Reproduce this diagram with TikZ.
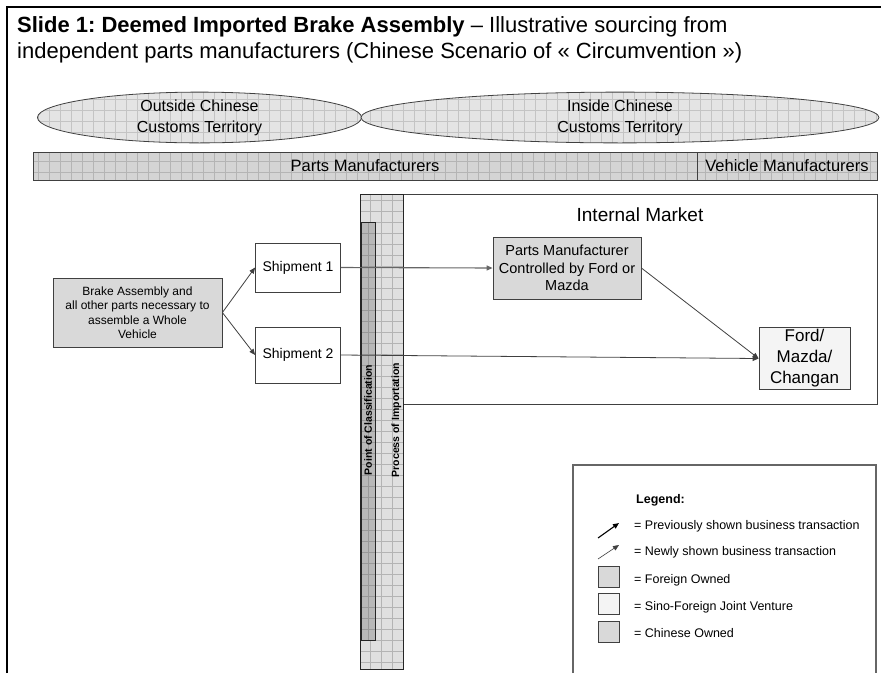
\documentclass[tikz,border=0pt]{standalone}
\usepackage{fontspec}
\setmainfont{Liberation Sans}
\usetikzlibrary{arrows.meta,shapes.geometric}
\definecolor{fillgray}{HTML}{D9D9D9}
\definecolor{jvfill}{HTML}{F4F4F4}
\definecolor{ellfill}{HTML}{E4E4E4}
\definecolor{barfill}{HTML}{D4D4D4}
\definecolor{stripfill}{HTML}{E0E0E0}
\definecolor{darkstrip}{HTML}{B8B8B8}
\definecolor{gridc}{HTML}{B4B4B4}
\definecolor{gridl}{HTML}{C4C4C4}
\definecolor{linec}{HTML}{404040}
\frenchspacing
\begin{document}
\begin{tikzpicture}[x=1pt,y=-1pt,
  gridfill/.style={path picture={\draw[line width=0.4pt, draw=#1]
     (path picture bounding box.south west) grid[step=11pt] (path picture bounding box.north east);}},
  gridfill/.default=gridc,
  box/.style={draw=linec, line width=0.8pt, align=center, inner sep=0pt},
  conn/.style={draw=linec, line width=0.8pt, -{Triangle[length=6pt,width=5pt]}},
  legtext/.style={anchor=west, inner sep=0pt, font=\fontsize{12.5}{15}\selectfont},
  legsq/.style={draw=linec, line width=0.8pt, minimum width=21pt, minimum height=21pt, inner sep=0pt},
]
\useasboundingbox (0,0) rectangle (885,673);
% frame
\draw[line width=2.4pt] (7,673) -- (7,7) -- (881,7);
% title
\node[anchor=base west, inner sep=0pt, font=\fontsize{22}{26}\selectfont] (title1) at (17,32)
  {\textbf{Slide 1: Deemed Imported Brake Assembly} – Illustrative sourcing from};
\node[anchor=base west, inner sep=0pt, font=\fontsize{22}{26}\selectfont] (title2) at (17,58)
  {independent parts manufacturers (Chinese Scenario of « Circumvention »)};
% territory ellipses
\node[ellipse, draw=linec, line width=0.8pt, fill=ellfill, gridfill=gridl, inner sep=0pt,
  minimum width=324pt, minimum height=41pt, align=center,
  font=\fontsize{16}{21}\selectfont] (outside) at (199.5,117.5) {Outside Chinese\\Customs Territory};
\node[ellipse, draw=linec, line width=0.8pt, fill=ellfill, gridfill=gridl, inner sep=0pt,
  minimum width=518pt, minimum height=41pt, align=center,
  font=\fontsize{16}{21}\selectfont] (inside) at (620,117.5) {Inside Chinese\\Customs Territory};
% manufacturer bars
\node[box, fill=barfill, gridfill, minimum width=664pt, minimum height=28pt,
  font=\fontsize{16.5}{19}\selectfont] (parts) at (365,166) {Parts Manufacturers};
\node[box, fill=barfill, gridfill, minimum width=180pt, minimum height=28pt,
  font=\fontsize{16.5}{19}\selectfont] (vehicle) at (787,166) {Vehicle Manufacturers};
% internal market
\node[draw=linec, line width=0.8pt, minimum width=474pt, minimum height=210pt, inner sep=0pt] (market) at (640,299) {};
\node[font=\fontsize{19}{22}\selectfont, inner sep=0pt] (marketlabel) at (640,215) {Internal Market};
% strips
\node[draw=black!85, line width=0.9pt, fill=stripfill, gridfill, minimum width=43pt, minimum height=475pt, inner sep=0pt] (importation) at (381.5,431.5) {};
\node[draw=black!85, line width=0.9pt, fill=darkstrip, gridfill=black!40, minimum width=14pt, minimum height=418pt, inner sep=0pt] (classification) at (368,431) {};
\node[rotate=90, font=\fontsize{10.5}{12}\selectfont\bfseries, inner sep=0pt] (classlabel) at (368,420) {Point of Classification};
\node[rotate=90, font=\fontsize{10.5}{12}\selectfont\bfseries, inner sep=0pt] (implabel) at (396.5,420) {Process of Importation};
% boxes
\node[box, fill=fillgray, minimum width=169pt, minimum height=69pt,
  font=\fontsize{12}{14.5}\selectfont] (brake) at (137.5,312.5)
  {Brake Assembly and\\all other parts necessary to\\assemble a Whole\\Vehicle};
\node[box, fill=white, minimum width=85pt, minimum height=49pt,
  font=\fontsize{14}{17}\selectfont] (ship1) at (298,267.5) {Shipment 1};
\node[box, fill=white, minimum width=85pt, minimum height=56pt,
  font=\fontsize{14}{17}\selectfont] (ship2) at (298,355) {Shipment 2};
\node[box, fill=fillgray, minimum width=148pt, minimum height=62pt,
  font=\fontsize{14.5}{17.5}\selectfont] (pm) at (567,268)
  {Parts Manufacturer\\Controlled by Ford or\\Mazda};
\node[box, fill=jvfill, minimum width=91pt, minimum height=62pt,
  font=\fontsize{17}{21}\selectfont] (ford) at (804.5,358.5) {Ford/\\Mazda/\\Changan};
% connectors
\draw[conn] (brake.east) -- (ship1.west);
\draw[conn] (brake.east) -- (ship2.west);
\draw[conn, draw=black!60, line width=1.1pt] (ship1.east) -- (pm.west);
\draw[conn] (pm.east) -- (ford.west);
\draw[conn] (ship2.east) -- (ford.west);
% legend
\coordinate (lgbl) at (573,673);
\coordinate (lgtl) at (573,465);
\coordinate (lgtr) at (876,465);
\coordinate (lgbr) at (876,673);
\draw[draw=black!60, line width=1.2pt] (lgbl) -- (lgtl) -- (lgtr) -- (lgbr);
\node[anchor=west, inner sep=0pt, font=\fontsize{12.5}{15}\selectfont\bfseries] (lgtitle) at (636,500) {Legend:};
\coordinate (a1s) at (598,538); \coordinate (a1e) at (619,523);
\coordinate (a2s) at (598,559); \coordinate (a2e) at (619,545);
\draw[line width=1.1pt, black, -{Triangle[length=6pt,width=5pt]}] (a1s) -- (a1e);
\draw[line width=0.6pt, black!75, -{Triangle[length=6pt,width=5pt]}] (a2s) -- (a2e);
\node[legtext] (lg1) at (634,526) {= Previously shown business transaction};
\node[legtext] (lg2) at (634,552) {= Newly shown business transaction};
\node[legsq, fill=fillgray] (sq1) at (608.5,576.5) {};
\node[legsq, fill=jvfill] (sq2) at (608.5,603.5) {};
\node[legsq, fill=fillgray] (sq3) at (608.5,632) {};
\node[legtext] (lg3) at (634,580) {= Foreign Owned};
\node[legtext] (lg4) at (634,607) {= Sino-Foreign Joint Venture};
\node[legtext] (lg5) at (634,633) {= Chinese Owned};
\end{tikzpicture}
\end{document}
